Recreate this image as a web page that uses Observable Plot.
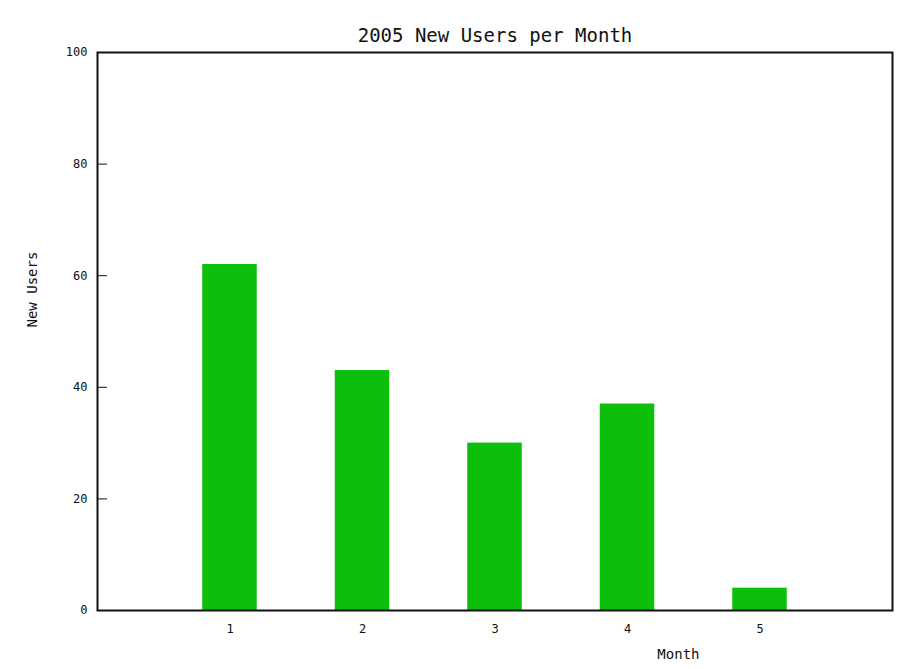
<!DOCTYPE html>
<html>
<head>
<meta charset="utf-8">
<script src="https://cdn.jsdelivr.net/npm/d3@7"></script>
<script src="https://cdn.jsdelivr.net/npm/@observablehq/plot@0.6"></script>
<style>
  html, body { margin: 0; padding: 0; background: #fff; }
  svg { display: block; }
</style>
</head>
<body>
<div id="chart"></div>
<script>
const title = "2005 New Users per Month";
const months = [1, 2, 3, 4, 5];
const newUsers = [62, 43, 30, 37, 4];
const yTicks = [0, 20, 40, 60, 80, 100];
const xLabel = "Month";
const yLabel = "New Users";

const data = months.map((m, i) => ({month: m, users: newUsers[i]}));
const font = "DejaVu Sans Mono, monospace";

const chart = Plot.plot({
  width: 901,
  height: 669,
  marginLeft: 97,
  marginTop: 52,
  marginRight: 9,
  marginBottom: 59,
  style: {fontFamily: font, fontSize: "12px", background: "#fff", color: "#111"},
  x: {domain: [0, 6]},
  y: {domain: [0, 100]},
  marks: [
    Plot.rectY(data, {
      x1: d => d.month - 0.5,
      x2: d => d.month + 0.5,
      y: "users",
      insetLeft: 39,
      insetRight: 39,
      fill: "#0bbf0b"
    }),
    Plot.axisX({ticks: months, tickFormat: "d", tickSize: 0, tickPadding: 14, label: null, fontSize: 12}),
    Plot.axisY({ticks: yTicks, tickFormat: "d", tickSize: 0, tickPadding: 10, label: null, fontSize: 12}),
    Plot.tickY(yTicks, {y: d => d, insetRight: 785, stroke: "#111", strokeWidth: 1}),
    Plot.frame({stroke: "#111", strokeWidth: 2}),
    Plot.text([title], {frameAnchor: "top", dy: -24, fontSize: 19, fill: "#111"}),
    Plot.text([xLabel], {frameAnchor: "bottom-right", dx: -193, dy: 48, fontSize: 14, fill: "#111"}),
    Plot.text([yLabel], {frameAnchor: "left", dx: -65, dy: -4, rotate: -90, fontSize: 14, fill: "#111"})
  ]
});
document.getElementById("chart").appendChild(chart);
</script>
</body>
</html>
